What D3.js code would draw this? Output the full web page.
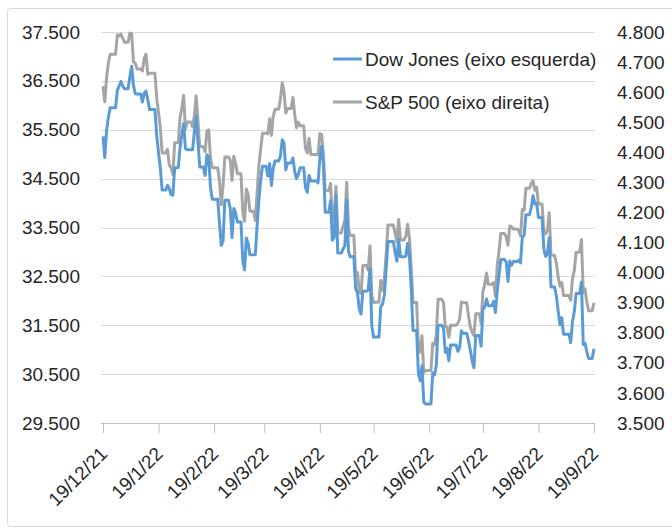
<!DOCTYPE html>
<html>
<head>
<meta charset="utf-8">
<script src="https://cdn.jsdelivr.net/npm/d3@7"></script>
<style>
  html, body { margin: 0; padding: 0; background: #fff; }
  svg { display: block; }
  text { font-family: "Liberation Sans", Arial, sans-serif; fill: #262626; }
</style>
</head>
<body>
<svg id="chart" width="672" height="530"></svg>
<script>
// ---- Data (calendar days, last close carried over weekends/holidays) ----
const days = [
  "2021-12-19","2021-12-20","2021-12-21","2021-12-22","2021-12-23","2021-12-24","2021-12-25","2021-12-26","2021-12-27","2021-12-28","2021-12-29","2021-12-30","2021-12-31",
  "2022-01-01","2022-01-02","2022-01-03","2022-01-04","2022-01-05","2022-01-06","2022-01-07","2022-01-08","2022-01-09","2022-01-10","2022-01-11","2022-01-12","2022-01-13","2022-01-14","2022-01-15","2022-01-16","2022-01-17","2022-01-18","2022-01-19","2022-01-20","2022-01-21","2022-01-22","2022-01-23","2022-01-24","2022-01-25","2022-01-26","2022-01-27","2022-01-28","2022-01-29","2022-01-30","2022-01-31",
  "2022-02-01","2022-02-02","2022-02-03","2022-02-04","2022-02-05","2022-02-06","2022-02-07","2022-02-08","2022-02-09","2022-02-10","2022-02-11","2022-02-12","2022-02-13","2022-02-14","2022-02-15","2022-02-16","2022-02-17","2022-02-18","2022-02-19","2022-02-20","2022-02-21","2022-02-22","2022-02-23","2022-02-24","2022-02-25","2022-02-26","2022-02-27","2022-02-28",
  "2022-03-01","2022-03-02","2022-03-03","2022-03-04","2022-03-05","2022-03-06","2022-03-07","2022-03-08","2022-03-09","2022-03-10","2022-03-11","2022-03-12","2022-03-13","2022-03-14","2022-03-15","2022-03-16","2022-03-17","2022-03-18","2022-03-19","2022-03-20","2022-03-21","2022-03-22","2022-03-23","2022-03-24","2022-03-25","2022-03-26","2022-03-27","2022-03-28","2022-03-29","2022-03-30","2022-03-31",
  "2022-04-01","2022-04-02","2022-04-03","2022-04-04","2022-04-05","2022-04-06","2022-04-07","2022-04-08","2022-04-09","2022-04-10","2022-04-11","2022-04-12","2022-04-13","2022-04-14","2022-04-15","2022-04-16","2022-04-17","2022-04-18","2022-04-19","2022-04-20","2022-04-21","2022-04-22","2022-04-23","2022-04-24","2022-04-25","2022-04-26","2022-04-27","2022-04-28","2022-04-29","2022-04-30",
  "2022-05-01","2022-05-02","2022-05-03","2022-05-04","2022-05-05","2022-05-06","2022-05-07","2022-05-08","2022-05-09","2022-05-10","2022-05-11","2022-05-12","2022-05-13","2022-05-14","2022-05-15","2022-05-16","2022-05-17","2022-05-18","2022-05-19","2022-05-20","2022-05-21","2022-05-22","2022-05-23","2022-05-24","2022-05-25","2022-05-26","2022-05-27","2022-05-28","2022-05-29","2022-05-30","2022-05-31",
  "2022-06-01","2022-06-02","2022-06-03","2022-06-04","2022-06-05","2022-06-06","2022-06-07","2022-06-08","2022-06-09","2022-06-10","2022-06-11","2022-06-12","2022-06-13","2022-06-14","2022-06-15","2022-06-16","2022-06-17","2022-06-18","2022-06-19","2022-06-20","2022-06-21","2022-06-22","2022-06-23","2022-06-24","2022-06-25","2022-06-26","2022-06-27","2022-06-28","2022-06-29","2022-06-30",
  "2022-07-01","2022-07-02","2022-07-03","2022-07-04","2022-07-05","2022-07-06","2022-07-07","2022-07-08","2022-07-09","2022-07-10","2022-07-11","2022-07-12","2022-07-13","2022-07-14","2022-07-15","2022-07-16","2022-07-17","2022-07-18","2022-07-19","2022-07-20","2022-07-21","2022-07-22","2022-07-23","2022-07-24","2022-07-25","2022-07-26","2022-07-27","2022-07-28","2022-07-29","2022-07-30","2022-07-31",
  "2022-08-01","2022-08-02","2022-08-03","2022-08-04","2022-08-05","2022-08-06","2022-08-07","2022-08-08","2022-08-09","2022-08-10","2022-08-11","2022-08-12","2022-08-13","2022-08-14","2022-08-15","2022-08-16","2022-08-17","2022-08-18","2022-08-19","2022-08-20","2022-08-21","2022-08-22","2022-08-23","2022-08-24","2022-08-25","2022-08-26","2022-08-27","2022-08-28","2022-08-29","2022-08-30","2022-08-31",
  "2022-09-01","2022-09-02","2022-09-03","2022-09-04","2022-09-05","2022-09-06","2022-09-07","2022-09-08","2022-09-09","2022-09-10","2022-09-11","2022-09-12","2022-09-13","2022-09-14","2022-09-15","2022-09-16","2022-09-17","2022-09-18","2022-09-19"
];

const dowJones = [
  35365,34932,35493,35754,35950,35950,35950,35950,36302,36398,36488,36398,36338,
  36338,36338,36585,36799,36407,36236,36231,36231,36231,36068,36252,36290,36113,35912,35912,35912,35912,35368,35029,34715,34265,34265,34265,34365,34298,34168,34161,34725,34725,34725,35132,
  35405,35630,35112,35089,35089,35089,35091,35463,35768,35242,34739,34739,34739,34566,34989,34935,34312,34079,34079,34079,34079,33597,33132,33224,34059,34059,34059,33893,
  33294,33891,33795,33615,33615,33615,32818,32633,33286,33174,32944,32944,32944,32945,33545,34063,34481,34755,34755,34755,34553,34808,34358,34708,34862,34862,34862,34955,35294,35229,34678,
  34818,34818,34818,34922,34641,34497,34584,34722,34722,34722,34309,34221,34565,34451,34451,34451,34451,34412,34911,35161,34793,33811,33811,33811,34050,33241,33302,34160,32977,32977,
  32977,33062,33129,34061,32998,32899,32899,32899,32246,32161,31834,31730,32197,32197,32197,32223,32655,31490,31254,31262,31262,31262,31881,31929,32120,32637,33213,33213,33213,33213,32990,
  32813,33248,32900,32900,32900,32916,33180,32910,32273,31393,31393,31393,30517,30365,30669,29927,29889,29889,29889,29889,30530,30484,30677,31501,31501,31501,31439,30947,31029,30775,
  31097,31097,31097,31097,30968,31037,31385,31338,31338,31338,31174,30982,30773,30630,31288,31288,31288,31073,31827,31875,32037,31899,31899,31899,31990,31762,32198,32530,32845,32845,32845,
  32798,32397,32813,32727,32803,32803,32803,32833,32775,33310,33337,33761,33761,33761,33913,34152,33981,33999,33707,33707,33707,33064,32910,32969,33292,32283,32283,32283,32099,31791,31510,
  31656,31318,31318,31318,31318,31145,31581,31775,32152,32152,32152,32381,31105,31135,30961,30822,30822,30822,31020
];

const sp500 = [
  4620.6,4568.0,4649.2,4696.6,4725.8,4725.8,4725.8,4725.8,4791.2,4786.4,4793.1,4778.7,4766.2,
  4766.2,4766.2,4796.6,4793.5,4700.6,4696.1,4677.0,4677.0,4677.0,4670.3,4713.1,4726.4,4659.0,4662.9,4662.9,4662.9,4662.9,4577.1,4532.8,4482.7,4397.9,4397.9,4397.9,4410.1,4356.5,4349.9,4326.5,4431.9,4431.9,4431.9,4515.6,
  4546.5,4589.4,4477.4,4500.5,4500.5,4500.5,4483.9,4521.5,4587.2,4504.1,4418.6,4418.6,4418.6,4401.7,4471.1,4475.0,4380.3,4348.9,4348.9,4348.9,4348.9,4304.8,4225.5,4288.7,4384.7,4384.7,4384.7,4373.9,
  4306.3,4386.5,4363.5,4328.9,4328.9,4328.9,4201.1,4170.7,4277.9,4259.5,4204.3,4204.3,4204.3,4173.1,4262.5,4357.9,4411.7,4463.1,4463.1,4463.1,4461.2,4511.6,4456.2,4520.2,4543.1,4543.1,4543.1,4575.5,4631.6,4602.5,4530.4,
  4545.9,4545.9,4545.9,4582.6,4525.1,4481.2,4500.2,4488.3,4488.3,4488.3,4412.5,4397.5,4446.6,4392.6,4392.6,4392.6,4392.6,4391.7,4462.2,4459.5,4393.7,4271.8,4271.8,4271.8,4296.1,4175.2,4184.0,4287.5,4131.9,4131.9,
  4131.9,4155.4,4175.5,4300.2,4146.9,4123.3,4123.3,4123.3,3991.2,4001.1,3935.2,3930.1,4023.9,4023.9,4023.9,4008.0,4088.9,3923.7,3900.8,3901.4,3901.4,3901.4,3973.8,3941.5,3978.7,4057.8,4158.2,4158.2,4158.2,4158.2,4132.2,
  4101.2,4176.8,4108.5,4108.5,4108.5,4121.4,4160.7,4115.8,4017.8,3900.9,3900.9,3900.9,3749.6,3735.5,3790.0,3666.8,3674.8,3674.8,3674.8,3674.8,3764.8,3759.9,3795.7,3911.7,3911.7,3911.7,3900.1,3821.6,3818.8,3785.4,
  3825.3,3825.3,3825.3,3825.3,3831.4,3845.1,3902.6,3899.4,3899.4,3899.4,3854.4,3818.8,3801.8,3790.4,3863.2,3863.2,3863.2,3830.9,3936.7,3959.9,3999.0,3961.6,3961.6,3961.6,3966.8,3921.1,4023.6,4072.4,4130.3,4130.3,4130.3,
  4118.6,4091.2,4155.2,4151.9,4145.2,4145.2,4145.2,4140.1,4122.5,4210.2,4207.3,4280.2,4280.2,4280.2,4297.1,4305.2,4274.0,4283.7,4228.5,4228.5,4228.5,4138.0,4128.7,4140.8,4199.1,4057.7,4057.7,4057.7,4030.6,3986.2,3955.0,
  3966.9,3924.3,3924.3,3924.3,3924.3,3908.2,3979.9,4006.2,4067.4,4067.4,4067.4,4110.4,3932.7,3946.0,3901.4,3873.3,3873.3,3873.3,3899.9
];

const xTickDates  = ["2021-12-19","2022-01-19","2022-02-19","2022-03-19","2022-04-19","2022-05-19","2022-06-19","2022-07-19","2022-08-19","2022-09-19"];
const xTickLabels = ["19/12/21","19/1/22","19/2/22","19/3/22","19/4/22","19/5/22","19/6/22","19/7/22","19/8/22","19/9/22"];
const leftTicks  = [29500, 30500, 31500, 32500, 33500, 34500, 35500, 36500, 37500];
const rightTicks = [3500, 3600, 3700, 3800, 3900, 4000, 4100, 4200, 4300, 4400, 4500, 4600, 4700, 4800];
const seriesNames = ["Dow Jones (eixo esquerda)", "S&P 500 (eixo direita)"];
const seriesColors = ["#5B9BD5", "#A5A5A5"];

// ---- Drawing ----
const parse = d3.timeParse("%Y-%m-%d");
const dates = days.map(parse);
const svg = d3.select("#chart");

const locale = d3.formatLocale({decimal: ",", thousands: ".", grouping: [3], currency: ["", ""]});
const fmt = locale.format(",");

const plot = {left: 103, right: 594, top: 32, bottom: 423};

const x = d3.scaleTime().domain([parse(xTickDates[0]), parse(xTickDates[xTickDates.length - 1])]).range([plot.left, plot.right]);
const yL = d3.scaleLinear().domain([29500, 37500]).range([plot.bottom, plot.top]);
const yR = d3.scaleLinear().domain([3500, 4800]).range([plot.bottom, plot.top]);

// outer border
svg.append("rect").attr("x", 7.5).attr("y", 8.5).attr("width", 700).attr("height", 518)
  .attr("rx", 3).attr("fill", "none").attr("stroke", "#d9d9d9").attr("stroke-width", 1);

// gridlines
svg.append("g").selectAll("line").data(leftTicks.slice(1)).join("line")
  .attr("x1", plot.left - 2).attr("x2", plot.right + 1)
  .attr("y1", d => Math.round(yL(d)) + 0.5).attr("y2", d => Math.round(yL(d)) + 0.5)
  .attr("stroke", "#d9d9d9").attr("stroke-width", 1);

// x axis
const xAxis = d3.axisBottom(x)
  .tickValues(xTickDates.map(parse))
  .tickFormat((d, i) => xTickLabels[i])
  .tickSize(10).tickSizeOuter(0);
const gx = svg.append("g").attr("transform", `translate(0,${plot.bottom})`).call(xAxis);
gx.select(".domain").attr("stroke", "#bfbfbf").attr("d", `M${plot.left - 2},0.5H${plot.right + 1}`);
gx.selectAll(".tick line").attr("stroke", "#bfbfbf");
gx.selectAll(".tick text")
  .attr("font-size", 19).attr("fill", "#262626")
  .attr("text-anchor", "end")
  .attr("transform", "translate(5,32) rotate(-45)")
  .attr("x", 0).attr("y", 0).attr("dy", 0);

// left axis
const gl = svg.append("g").attr("transform", `translate(${plot.left},0)`)
  .call(d3.axisLeft(yL).tickValues(leftTicks).tickFormat(fmt).tickSize(0).tickPadding(23));
gl.select(".domain").remove();
gl.selectAll(".tick text").attr("font-size", 19).attr("fill", "#262626");

// right axis
const gr = svg.append("g").attr("transform", `translate(${plot.right},0)`)
  .call(d3.axisRight(yR).tickValues(rightTicks).tickFormat(fmt).tickSize(0).tickPadding(23));
gr.select(".domain").remove();
gr.selectAll(".tick text").attr("font-size", 19).attr("fill", "#262626");

// lines (S&P drawn first, Dow on top)
const lineR = d3.line().x((d, i) => x(dates[i])).y(d => yR(d));
const lineL = d3.line().x((d, i) => x(dates[i])).y(d => yL(d));
svg.append("path").datum(sp500).attr("d", lineR)
  .attr("fill", "none").attr("stroke", seriesColors[1]).attr("stroke-width", 3).attr("stroke-linejoin", "round");
svg.append("path").datum(dowJones).attr("d", lineL)
  .attr("fill", "none").attr("stroke", seriesColors[0]).attr("stroke-width", 3).attr("stroke-linejoin", "round");

// legend
const legend = svg.append("g");
const legY = [59, 102];
seriesNames.forEach((name, i) => {
  legend.append("line").attr("x1", 333).attr("x2", 362).attr("y1", legY[i]).attr("y2", legY[i])
    .attr("stroke", seriesColors[i]).attr("stroke-width", 3);
  legend.append("text").attr("x", 365).attr("y", legY[i]).attr("dy", "0.35em")
    .attr("font-size", 19).text(name);
});
</script>
</body>
</html>
